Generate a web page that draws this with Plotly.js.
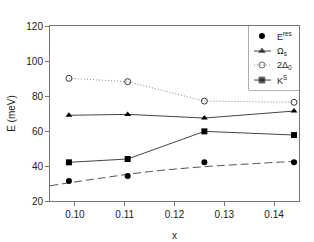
<!DOCTYPE html>
<html>
<head>
<meta charset="utf-8">
<script src="https://cdn.plot.ly/plotly-3.0.1.min.js"></script>
<style>html,body{margin:0;padding:0;background:#fff;}#chart{width:314px;height:242px;}</style>
</head>
<body>
<div id="chart"></div>
<script>
// Doping levels
const xDoping = [0.0988, 0.1106, 0.126, 0.144];
// Series values (meV)
const eRes = [31.4, 34.3, 42.1, 42.1];
const omegaS = [69.0, 69.5, 67.4, 71.4];
const twoDelta0 = [90.1, 88.2, 77.1, 76.4];
const kS = [42.1, 44.0, 59.8, 57.7];
// Dashed guide curve
const fitX = [0.095, 0.105, 0.115, 0.125, 0.135, 0.145];
const fitY = [28.7, 33.0, 36.8, 39.4, 41.2, 42.8];
// Tick labels
const xTicks = [0.10, 0.11, 0.12, 0.13, 0.14];
const yTicks = [20, 40, 60, 80, 100, 120];
// Legend labels
const legendNames = ['E<sup>res</sup>', 'Ω<sub>s</sub>', '2Δ<sub>0</sub>', 'K<sup>S</sup>'];

const styles = [
  {mode: 'markers', marker: {symbol: 'circle', size: 6, color: '#000'}},
  {mode: 'lines+markers', line: {color: '#444', width: 1}, marker: {symbol: 'triangle-up', size: 6, color: '#000'}},
  {mode: 'lines+markers', line: {color: '#888', width: 1, dash: '1px,2px'},
   marker: {symbol: 'circle-open', size: 6, color: '#333', line: {width: 1, color: '#333'}}},
  {mode: 'lines+markers', line: {color: '#444', width: 1}, marker: {symbol: 'square', size: 6, color: '#000'}}
];
const series = [eRes, omegaS, twoDelta0, kS];

const traces = [
  {x: fitX, y: fitY, mode: 'lines', line: {color: '#555', width: 1, dash: '8px,4px', shape: 'spline'},
   showlegend: false, hoverinfo: 'skip'}
];
series.forEach((s, i) => {
  traces.push(Object.assign({x: xDoping, y: s, name: legendNames[i], showlegend: false}, styles[i]));
});

// Custom compact legend (box region in legend axes 0..1)
const legRowY = [0.844, 0.609, 0.391, 0.156];
const legPaper = {x0: 0.799, x1: 1, y0: 0.634, y1: 1};
const annotations = [];
series.forEach((s, i) => {
  const st = styles[i];
  const symX = st.mode === 'markers' ? [0.26] : [0.1, 0.26, 0.44];
  const symY = symX.map(() => legRowY[i]);
  const t = Object.assign({}, st, {x: symX, y: symY, xaxis: 'x2', yaxis: 'y2', showlegend: false, hoverinfo: 'skip'});
  if (st.mode !== 'markers') {
    t.marker = Object.assign({}, st.marker, {size: symX.map((v, k) => k === 1 ? 6 : 0)});
  }
  traces.push(t);
  annotations.push({xref: 'x2', yref: 'y2', x: 0.52, y: legRowY[i], xanchor: 'left', yanchor: 'middle',
    text: legendNames[i], showarrow: false,
    font: {family: 'Liberation Sans, Arial, sans-serif', size: 9, color: '#222'}});
});

const axFont = {family: 'Liberation Sans, Arial, sans-serif', size: 10, color: '#222'};
const layout = {
  width: 314, height: 242,
  margin: {l: 50, r: 15, t: 26, b: 41},
  paper_bgcolor: '#fff', plot_bgcolor: '#fff',
  showlegend: false,
  annotations: annotations,
  shapes: [{type: 'rect', xref: 'paper', yref: 'paper', x0: legPaper.x0, x1: legPaper.x1,
            y0: legPaper.y0, y1: legPaper.y1, line: {color: '#666', width: 1}, fillcolor: '#fff', layer: 'below'}],
  xaxis: {range: [0.095, 0.145], tickvals: xTicks, tickformat: '.2f', ticks: 'outside', ticklen: 4,
          tickcolor: '#777', showline: true, linecolor: '#777', linewidth: 1, mirror: true,
          showgrid: false, zeroline: false, tickfont: axFont,
          title: {text: 'x', font: axFont, standoff: 12}},
  yaxis: {range: [20, 120], tickvals: yTicks, ticks: 'outside', ticklen: 4,
          tickcolor: '#777', showline: true, linecolor: '#777', linewidth: 1, mirror: true,
          showgrid: false, zeroline: false, tickfont: axFont,
          title: {text: 'E (meV)', font: axFont, standoff: 8}},
  xaxis2: {domain: [legPaper.x0, legPaper.x1], range: [0, 1], anchor: 'y2', visible: false, fixedrange: true},
  yaxis2: {domain: [legPaper.y0, legPaper.y1], range: [0, 1], anchor: 'x2', visible: false, fixedrange: true}
};
Plotly.newPlot('chart', traces, layout, {displayModeBar: false, staticPlot: true});
</script>
</body>
</html>
